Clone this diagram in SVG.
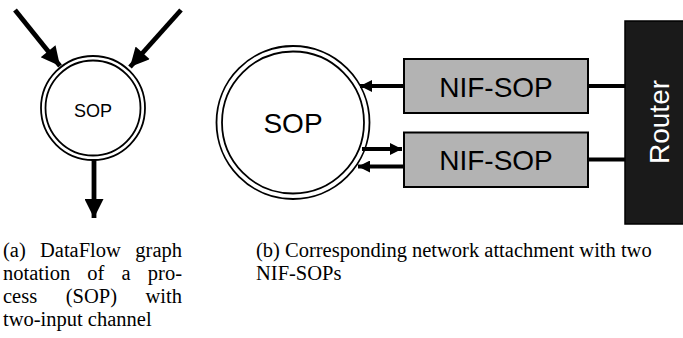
<svg xmlns="http://www.w3.org/2000/svg" width="683" height="338" viewBox="0 0 683 338">
  <style>
    .ring { fill: #ffffff; stroke: #000000; stroke-width: 1.8; }
    .box { fill: #b3b3b3; stroke: #000000; stroke-width: 2; }
    .router { fill: #1a1a1a; stroke: #000000; stroke-width: 1.5; }
    .thick { stroke: #000000; stroke-width: 4.8; fill: none; }
    .wire { stroke: #000000; stroke-width: 3.8; fill: none; }
    .sans { font-family: "Liberation Sans", Arial, sans-serif; fill: #000000; }
    .cap { font-family: "Liberation Serif", "Times New Roman", serif; font-size: 20.5px; fill: #000000; }
  </style>
  <defs>
    <marker id="headBig" viewBox="0 0 10 10" refX="10" refY="5" markerUnits="userSpaceOnUse" markerWidth="21" markerHeight="19" orient="auto">
      <path d="M0,0 L10,5 L0,10 Z" fill="#000000"/>
    </marker>
    <marker id="headSmall" viewBox="0 0 10 10" refX="10" refY="5" markerUnits="userSpaceOnUse" markerWidth="15" markerHeight="12" orient="auto">
      <path d="M0,0 L10,5 L0,10 Z" fill="#000000"/>
    </marker>
  </defs>

  <!-- (a) dataflow notation -->
  <g id="sop-a">
    <circle class="ring" cx="93" cy="108" r="52"/>
    <circle class="ring" cx="93" cy="108" r="47.5"/>
    <text class="sans" x="93" y="116.5" font-size="18" text-anchor="middle">SOP</text>
  </g>

  <!-- (b) network attachment -->
  <g id="sop-b">
    <circle class="ring" cx="293" cy="122.5" r="76.5"/>
    <circle class="ring" cx="293" cy="122.5" r="71"/>
    <text class="sans" x="293" y="132.5" font-size="28" text-anchor="middle">SOP</text>
  </g>

  <g id="nif-sop-1">
    <rect class="box" x="404" y="59" width="184" height="54"/>
    <text class="sans" x="496" y="96.5" font-size="28" text-anchor="middle">NIF-SOP</text>
  </g>

  <g id="nif-sop-2">
    <rect class="box" x="404" y="132.5" width="184" height="54.5"/>
    <text class="sans" x="496" y="169.5" font-size="28" text-anchor="middle">NIF-SOP</text>
  </g>

  <g id="router">
    <rect class="router" x="625" y="21" width="60" height="203"/>
    <text class="sans" x="0" y="0" font-size="28" text-anchor="middle" style="fill:#ffffff" transform="translate(669,122) rotate(-90)">Router</text>
  </g>

  <g id="connectors">
    <!-- channels into and out of the process -->
    <line class="thick" x1="15" y1="10" x2="60" y2="66" marker-end="url(#headBig)"/>
    <line class="thick" x1="181" y1="10" x2="130" y2="67" marker-end="url(#headBig)"/>
    <line class="thick" x1="94" y1="160" x2="94" y2="218" marker-end="url(#headBig)"/>
    <!-- NIF-SOP links -->
    <line class="wire" x1="404" y1="86" x2="360" y2="86" marker-end="url(#headSmall)"/>
    <line class="wire" x1="362" y1="149" x2="402" y2="149" marker-end="url(#headSmall)"/>
    <line class="wire" x1="404" y1="166.5" x2="358" y2="166.5" marker-end="url(#headSmall)"/>
    <line class="wire" x1="588" y1="86" x2="625" y2="86"/>
    <line class="wire" x1="588" y1="159.5" x2="625" y2="159.5"/>
  </g>

  <!-- captions -->
  <g id="caption-a">
    <text class="cap" y="257"><tspan x="3">(a)</tspan><tspan x="40">DataFlow</tspan></text>
    <text class="cap" x="182" y="257" text-anchor="end">graph</text>
    <text class="cap" y="280"><tspan x="3">notation</tspan><tspan x="87.3">of</tspan><tspan x="121.5">a</tspan></text>
    <text class="cap" x="182" y="280" text-anchor="end">pro-</text>
    <text class="cap" y="303"><tspan x="3">cess</tspan><tspan x="65.8">(SOP)</tspan></text>
    <text class="cap" x="182" y="303" text-anchor="end">with</text>
    <text class="cap" x="3" y="326">two-input channel</text>
  </g>
  <g id="caption-b">
    <text class="cap" x="256" y="257">(b) Corresponding network attachment with two</text>
    <text class="cap" x="256" y="280">NIF-SOPs</text>
  </g>
</svg>
